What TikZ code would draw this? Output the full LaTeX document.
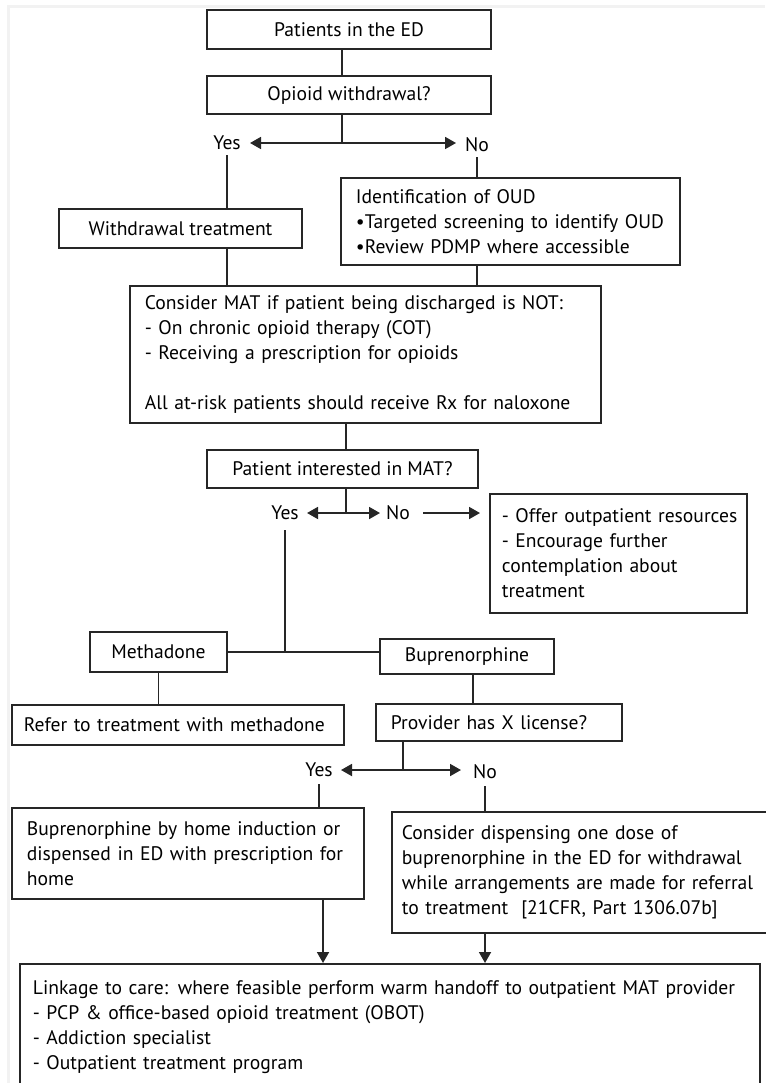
\documentclass[tikz,border=0pt]{standalone}
\usepackage{fontspec}
\setmainfont{PT Sans}
\usetikzlibrary{arrows.meta}
\newcommand\myfs{\fontsize{19.6}{25}\selectfont}
\tikzset{
  ln/.style={line width=1.8pt, draw=black!85},
  bx/.style={draw=black!85, line width=1.8pt, inner sep=0pt, font=\myfs, align=center},
  lbx/.style={draw=black!85, line width=1.8pt, inner ysep=0pt, anchor=north west, font=\myfs, align=left},
  lbl/.style={inner sep=2pt, font=\myfs},
  arr/.style={ln, -{Triangle[length=11pt,width=12pt]}},
  dbl/.style={ln, {Triangle[length=11pt,width=12pt]}-{Triangle[length=11pt,width=12pt]}}
}
\begin{document}
\begin{tikzpicture}[x=1pt,y=-1pt]
\useasboundingbox (0,0) rectangle (765,1083);
\fill[white] (0,0) rectangle (765,1083);
\draw[black!5, line width=3pt] (8,1083) -- (8,7) -- (765,7);

% nodes
\node[bx, minimum width=284pt, minimum height=39pt] (p1) at (349,29.5) {Patients in the ED};
\node[bx, minimum width=284pt, minimum height=38pt] (p2) at (349,95) {Opioid withdrawal?};
\coordinate (j1) at (342,143);
\coordinate (ya1) at (250,143);
\coordinate (na1) at (456,143);
\node[lbl] (yes1) at (227,143) {Yes};
\node[lbl] (no1) at (477,145) {No};
\node[bx, minimum width=243pt, minimum height=39pt] (wt) at (180.5,228.5) {Withdrawal treatment};
\node[lbx, inner xsep=15pt, text width=309pt, minimum width=339pt, minimum height=87pt] (oud) at (340,177)
  {Identification of OUD\\•Targeted screening to identify OUD\\•Review PDMP where accessible};
\node[lbx, inner xsep=15pt, text width=441pt, minimum width=471pt, minimum height=137pt] (mat) at (129,285)
  {Consider MAT if patient being discharged is NOT:\\- On chronic opioid therapy (COT)\\- Receiving a prescription for opioids\\[25pt]All at-risk patients should receive Rx for naloxone};
\node[bx, minimum width=271pt, minimum height=38pt] (pim) at (342.5,469) {Patient interested in MAT?};
\coordinate (x2) at (346,0);
\coordinate (j2) at (346,513);
\coordinate (ya2) at (307,513);
\coordinate (na2) at (380,513);
\node[lbl] (yes2) at (285,513) {Yes};
\node[lbl] (no2) at (398,513) {No};
\node[lbx, inner xsep=12pt, text width=233pt, minimum width=257pt, minimum height=119pt] (off) at (489,493)
  {\mbox{- Offer outpatient resources}\\- Encourage further\\contemplation about\\treatment};
\node[bx, minimum width=137pt, minimum height=40pt] (meth) at (158.5,652) {Methadone};
\node[bx, minimum width=174pt, minimum height=35pt] (bup) at (467,656.5) {Buprenorphine};
\node[lbx, inner xsep=12pt, text width=308pt, minimum width=332pt, minimum height=40pt] (refer) at (11,704)
  {Refer to treatment with methadone};
\node[lbx, inner xsep=15pt, text width=216pt, minimum width=246pt, minimum height=37pt] (prov) at (375,703)
  {Provider has X license?};
\coordinate (j4) at (403,770);
\coordinate (ya3) at (341,770);
\coordinate (na3) at (461,770);
\node[lbl] (yes3) at (319,770) {Yes};
\node[lbl] (no3) at (485,772) {No};
\node[lbx, inner xsep=15pt, text width=322pt, minimum width=352pt, minimum height=91pt] (home) at (11,807)
  {Buprenorphine by home induction or\\dispensed in ED with prescription for\\home};
\node[lbx, inner xsep=10pt, text width=364pt, minimum width=384pt, minimum height=121pt] (disp) at (391,811)
  {Consider dispensing one dose of\\buprenorphine in the ED for withdrawal\\while arrangements are made for referral\\to treatment~~[21CFR, Part 1306.07b]};
\node[lbx, inner xsep=13pt, text width=714pt, minimum width=740pt, minimum height=127pt] (link) at (19,963)
  {Linkage to care: where feasible perform warm handoff to outpatient MAT provider\\- PCP \& office-based opioid treatment (OBOT)\\- Addiction specialist\\- Outpatient treatment program};
\coordinate (a1) at (323,0);

% connectors
\draw[ln] (p1.south -| j1) -- (p2.north -| j1);
\draw[ln] (p2.south -| j1) -- (j1);
\draw[dbl] (ya1) -- (na1);
\draw[ln, shorten <=3pt] (yes1.south) -- (yes1.south |- wt.north);
\draw[ln, shorten <=3pt] (no1.south) -- (no1.south |- oud.north);
\draw[ln] (wt.south -| yes1) -- (mat.north -| yes1);
\draw[ln] (oud.south -| no1) -- (mat.north -| no1);
\draw[ln] (mat.south -| x2) -- (pim.north -| x2);
\draw[ln] (pim.south -| j2) -- (j2);
\draw[dbl] (ya2) -- (na2);
\draw[arr, shorten <=11pt, shorten >=9pt] (no2.east) -- (off.west |- no2.east);
\draw[ln, shorten <=8pt] (yes2.south) -- (yes2.south |- meth.east);
\draw[ln] (meth.east) -- (bup.west |- meth.east);
\draw[ln] (meth.south) -- (meth.south |- refer.north);
\draw[ln] ([xshift=6pt]bup.south) -- ([xshift=6pt]bup.south |- prov.north);
\draw[ln] (prov.south -| j4) -- (j4);
\draw[dbl] (ya3) -- (na3);
\draw[ln, shorten <=5pt] (yes3.south) -- (yes3.south |- home.north);
\draw[ln, shorten <=5pt] (no3.south) -- (no3.south |- disp.north);
\draw[arr] (home.south -| a1) -- (link.north -| a1);
\draw[arr] (disp.south -| no3) -- (link.north -| no3);
\end{tikzpicture}
\end{document}
